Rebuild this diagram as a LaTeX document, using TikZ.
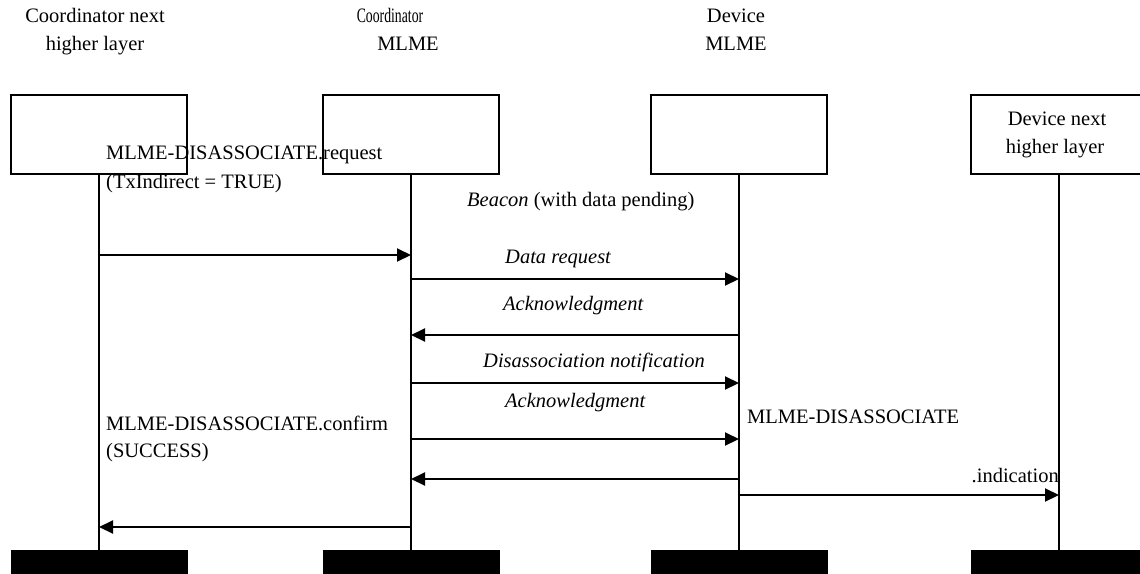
\documentclass[tikz,border=0pt]{standalone}
\usepackage{graphicx}
\usepackage{fontspec}
\setmainfont{Liberation Serif}
\usetikzlibrary{arrows.meta}
\begin{document}
\begin{tikzpicture}[x=1pt,y=-1pt,
  every node/.style={font=\fontsize{20.5}{24}\selectfont, inner sep=0pt},
  lifebox/.style={draw, line width=2.2pt, minimum width=176pt, minimum height=79pt},
  endbar/.style={fill=black, minimum width=177pt, minimum height=26pt},
  lifeline/.style={line width=2pt},
  msg/.style={line width=2pt, -{Triangle[length=14pt,width=13pt]}},
  lbl/.style={anchor=base west},
  hdr/.style={anchor=base},
]
\useasboundingbox (0,0) rectangle (1140,573);
\clip (0,0) rectangle (1140,573);

% entity headers
\node[hdr] (h1a) at (95,22) {Coordinator next};
\node[hdr] (h1b) at (95,50) {higher layer};
\node[hdr] (h2a) at (390,22) {\scalebox{0.67}[1]{Coordinator}};
\node[hdr] (h2b) at (408,50) {MLME};
\node[hdr] (h3a) at (736,22) {Device};
\node[hdr] (h3b) at (736,50) {MLME};

% entity boxes
\node[lifebox] (b1) at (99,134.5) {};
\node[lifebox] (b2) at (411,134.5) {};
\node[lifebox] (b3) at (739,134.5) {};
\node[lifebox] (b4) at (1059,134.5) {};
\node[hdr] (h4a) at (1057,125) {Device next};
\node[hdr] (h4b) at (1055,153) {higher layer};

% bottom bars
\node[endbar] (f1) at (99,563) {};
\node[endbar] (f2) at (411,563) {};
\node[endbar] (f3) at (739,563) {};
\node[endbar] (f4) at (1059,563) {};

% lifelines
\foreach \i in {1,2,3,4}
  \draw[lifeline] (b\i.south) -- (f\i.north);

% messages
\draw[msg] (b1.south |- 0,255) -- (b2.south |- 0,255);
\draw[msg] (b2.south |- 0,279) -- (b3.south |- 0,279);
\draw[msg] (b3.south |- 0,335) -- (b2.south |- 0,335);
\draw[msg] (b2.south |- 0,383) -- (b3.south |- 0,383);
\draw[msg] (b2.south |- 0,439) -- (b3.south |- 0,439);
\draw[msg] (b3.south |- 0,479) -- (b2.south |- 0,479);
\draw[msg] (b3.south |- 0,495) -- (b4.south |- 0,495);
\draw[msg] (b2.south |- 0,527) -- (b1.south |- 0,527);

% message labels
\node[lbl] (req) at (106,159) {MLME-DISASSOCIATE.request};
\node[lbl] (reqp) at (106,188) {(TxIndirect = TRUE)};
\node[lbl] (beacon) at (467,206) {\textit{Beacon} (with data pending)};
\node[lbl] (dreq) at (505,263) {\textit{Data request}};
\node[lbl] (ack1) at (503,310) {\textit{Acknowledgment}};
\node[lbl] (dis) at (483,367) {\textit{Disassociation notification}};
\node[lbl] (ack2) at (505,407) {\textit{Acknowledgment}};
\node[lbl] (conf) at (106,430) {MLME-DISASSOCIATE.confirm};
\node[lbl] (confp) at (106,457) {(SUCCESS)};
\node[lbl] (ind) at (747,423) {MLME-DISASSOCIATE};
\node[anchor=base east] (ind2) at (1059,482) {.indication};
\end{tikzpicture}
\end{document}
